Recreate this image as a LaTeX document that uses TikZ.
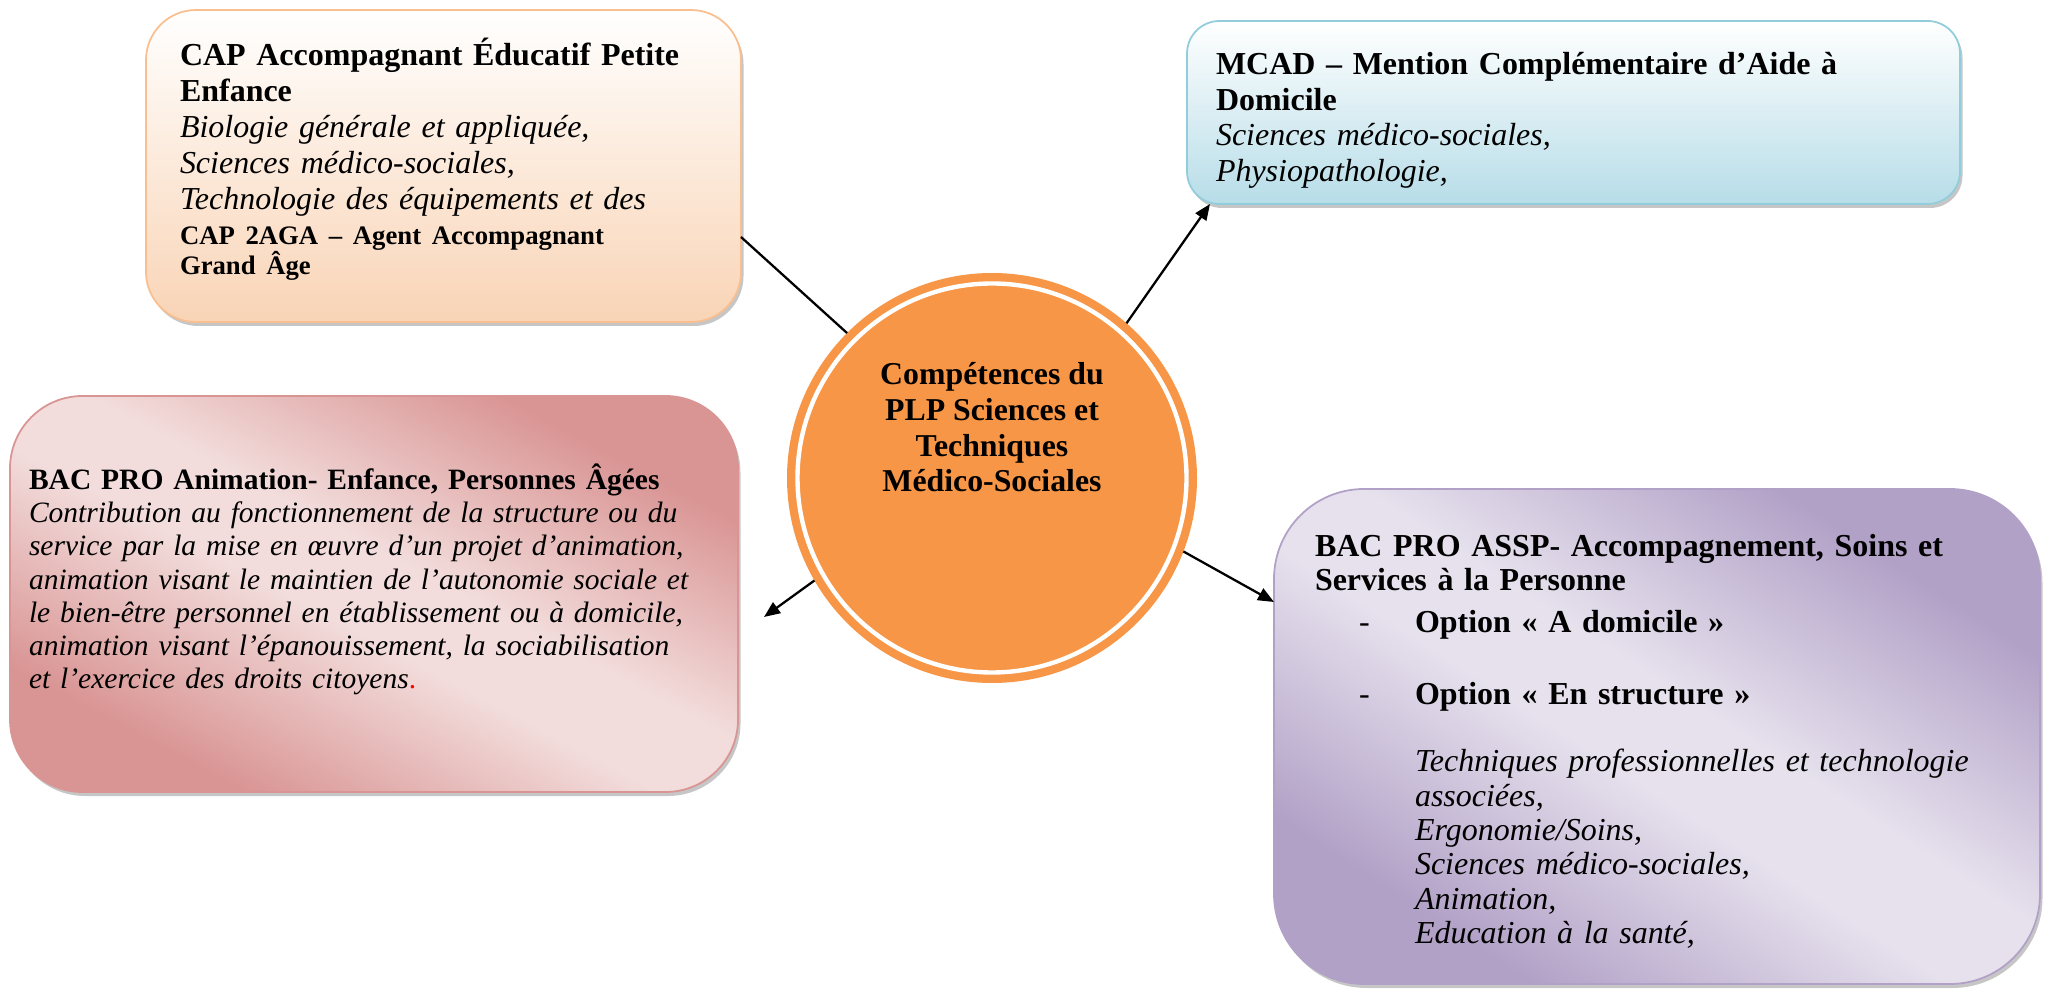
\documentclass[tikz,border=0pt]{standalone}
\usepackage{fontspec}
\setmainfont{Liberation Serif}
\usetikzlibrary{arrows.meta,shadows}

\definecolor{capline}{RGB}{250,191,143}
\definecolor{capfill}{RGB}{249,212,182}
\definecolor{mcadline}{RGB}{146,205,220}
\definecolor{mcadfill}{RGB}{183,221,232}
\definecolor{animdark}{RGB}{217,149,148}
\definecolor{animlight}{RGB}{242,221,220}
\definecolor{asspdark}{RGB}{178,161,199}
\definecolor{assplight}{RGB}{230,225,237}
\definecolor{hubcol}{RGB}{247,150,70}

\pgfdeclareverticalshading{animshade}{100bp}{color(0bp)=(animdark); color(27bp)=(animdark);
  color(46bp)=(animlight); color(54bp)=(animlight); color(73bp)=(animdark); color(100bp)=(animdark)}
\pgfdeclareverticalshading{asspshade}{100bp}{color(0bp)=(asspdark); color(27bp)=(asspdark);
  color(46bp)=(assplight); color(54bp)=(assplight); color(73bp)=(asspdark); color(100bp)=(asspdark)}

\newcommand{\boxfont}{\fontsize{18.2}{20.4}\selectfont}
\newcommand{\animfont}{\fontsize{16.8}{18.9}\selectfont}
\newcommand{\smallbold}{\fontsize{15.2}{17}\selectfont\bfseries}

\begin{document}
\begin{tikzpicture}[
    card/.style={rectangle, draw, line width=1pt, outer sep=0pt, align=left,
      drop shadow={shadow xshift=0.05cm, shadow yshift=-0.08cm, fill=black!50, opacity=0.45}},
    link/.style={line width=1.3pt, -{Triangle[length=0.32cm,width=0.26cm]}},
    hub/.style={circle, fill=hubcol, minimum size=8.2cm, inner sep=0pt, outer sep=0pt,
      path picture={\draw[white, line width=2.5pt] (path picture bounding box.center) circle (3.89cm);}}
  ]
  \useasboundingbox (0,0) rectangle (40.98,19.88);

  \node[hub] (comp) at (19.84,10.32) {};
  \node[align=center, font=\fontsize{18.1}{20.3}\selectfont\bfseries] (comptext)
    at ([yshift=1.01cm]comp.center) {Compétences du\\PLP Sciences et\\Techniques\\Médico-Sociales};

  \node[card, draw=capline, top color=white, bottom color=capfill, rounded corners=1cm,
    minimum width=11.9cm, minimum height=6.24cm, inner xsep=0.68cm, text width=10.54cm,
    font=\boxfont] (cap) at (8.87,16.56) {%
    \textbf{CAP Accompagnant Éducatif Petite}\\
    \textbf{Enfance}\\
    \textit{Biologie générale et appliquée,}\\
    \textit{Sciences médico-sociales,}\\
    \textit{Technologie des équipements et des}\\[0.12cm]
    {\smallbold CAP 2AGA – Agent Accompagnant\\ Grand Âge\rule[-0.38cm]{0pt}{0.38cm}\par}};

  \node[card, draw=mcadline, top color=white, bottom color=mcadfill, rounded corners=0.65cm,
    minimum width=15.46cm, minimum height=3.66cm, inner xsep=0.58cm, text width=14.3cm,
    font=\boxfont] (mcad) at (31.47,17.63) {%
    \rule{0pt}{0.76cm}\textbf{MCAD – Mention Complémentaire d’Aide à}\\
    \textbf{Domicile}\\
    \textit{Sciences médico-sociales,}\\
    \textit{Physiopathologie,}};

  \node[card, draw=animdark, shading=animshade, shading angle=-28, rounded corners=1.45cm,
    minimum width=14.56cm, minimum height=7.92cm, inner xsep=0.38cm, text width=13.8cm,
    font=\animfont] (anim) at (7.48,8.0) {%
    \textbf{BAC PRO Animation- Enfance, Personnes Âgées}\\
    \textit{Contribution au fonctionnement de la structure ou du}\\
    \textit{service par la mise en œuvre d’un projet d’animation,}\\
    \textit{animation visant le maintien de l’autonomie sociale et}\\
    \textit{le bien-être personnel en établissement ou à domicile,}\\
    \textit{animation visant l’épanouissement, la sociabilisation}\\
    \textit{et l’exercice des droits citoyens}\textcolor{red}{.}\rule[-0.71cm]{0pt}{0.71cm}};

  \node[card, draw=asspdark, shading=asspshade, shading angle=-33, rounded corners=1.8cm,
    minimum width=15.32cm, minimum height=9.9cm, inner xsep=0.82cm, text width=13.68cm,
    font=\fontsize{18.2}{19.6}\selectfont] (assp) at (33.14,5.15) {%
    \rule{0pt}{0.64cm}\textbf{BAC PRO ASSP- Accompagnement, Soins et}\\
    \textbf{Services à la Personne}\\[0.15cm]
    \hspace*{0.88cm}\makebox[1.12cm][l]{-}\textbf{Option « A domicile »}\\[0.75cm]
    \hspace*{0.88cm}\makebox[1.12cm][l]{-}\textbf{Option « En structure »}\\[0.65cm]
    \hspace*{2cm}\textit{Techniques professionnelles et technologie}\\
    \hspace*{2cm}\textit{associées,}\\
    \hspace*{2cm}\textit{Ergonomie/Soins,}\\
    \hspace*{2cm}\textit{Sciences médico-sociales,}\\
    \hspace*{2cm}\textit{Animation,}\\
    \hspace*{2cm}\textit{Education à la santé,}};

  \coordinate (animtip) at ([shift={(0.52,-0.46)}]anim.east);

  \draw[line width=1.3pt] ([yshift=-1.42cm]cap.east) -- (comp.135);
  \draw[link] (comp.49) -- ([xshift=0.46cm]mcad.south west);
  \draw[link] (comp.210) -- (animtip);
  \draw[link] (comp.-21) -- ([yshift=2.69cm]assp.west);
\end{tikzpicture}
\end{document}
